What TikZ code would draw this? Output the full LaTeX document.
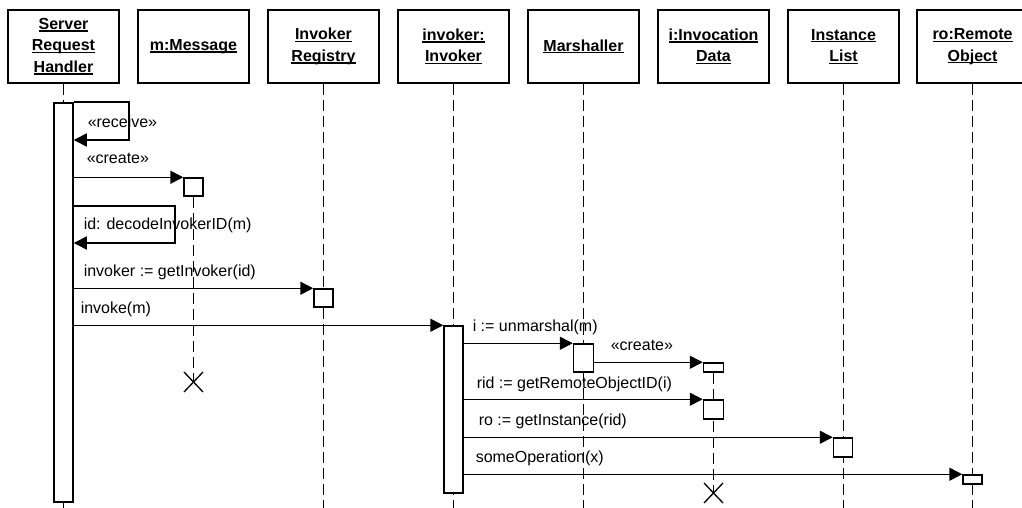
\documentclass[tikz,border=0pt]{standalone}
\usepackage{fontspec}
\setmainfont{Liberation Sans}
\usetikzlibrary{arrows.meta}
% bold, underlined object name line
\newcommand\objline[1]{\setbox0\hbox{\bfseries #1}\rlap{\rule[-2.4pt]{\wd0}{1.3pt}}\box0}

\begin{document}
\begin{tikzpicture}[x=1pt,y=-1pt,line width=1.5pt,
  objhead/.style={draw,fill=white,minimum width=111pt,minimum height=73pt,inner sep=0pt,
    align=center,font=\fontsize{16}{21.5}\selectfont},
  actbox/.style={draw,fill=white,inner sep=0pt},
  lifeline/.style={dash pattern=on 11pt off 5pt},
  msg/.style={-{Triangle[length=13pt,width=13pt]}},
  lbl/.style={anchor=base west,inner sep=0pt,font=\fontsize{16}{19}\selectfont},
  killmark/.style={line width=1.3pt}]
\useasboundingbox (0,0) rectangle (1022,508);

% object heads
\node[objhead] (h1) at (63.5,46.5) {\objline{Server}\\\objline{Request}\\\objline{Handler}};
\node[objhead] (h2) at (193.5,46.5) {\objline{m:Message}};
\node[objhead] (h3) at (323.5,46.5) {\objline{Invoker}\\\objline{Registry}};
\node[objhead] (h4) at (453.5,46.5) {\objline{invoker:}\\\objline{Invoker}};
\node[objhead] (h5) at (583.5,46.5) {\objline{Marshaller}};
\node[objhead] (h6) at (713.5,46.5) {\objline{i:Invocation}\\\objline{Data}};
\node[objhead] (h7) at (843.5,46.5) {\objline{Instance}\\\objline{List}};
\node[objhead] (h8) at (972.5,46.5) {\objline{ro:Remote}\\\objline{Object}};

% ends of lifelines
\coordinate (e1) at (63.5,508);
\coordinate (e3) at (323.5,508);
\coordinate (e4) at (453.5,508);
\coordinate (e5) at (583.5,508);
\coordinate (e7) at (843.5,508);
\coordinate (e8) at (972.5,508);
\coordinate (xm) at (193.5,382);
\coordinate (xi) at (713.5,493);

% lifelines
\draw[lifeline] (h1.south) -- (e1);
\draw[lifeline] (h3.south) -- (e3);
\draw[lifeline] (h4.south) -- (e4);
\draw[lifeline] (h5.south) -- (e5);
\draw[lifeline] (h7.south) -- (e7);
\draw[lifeline] (h8.south) -- (e8);

% activation boxes
\node[actbox,minimum width=19pt,minimum height=399pt] (aS) at (63.5,302.5) {};
\node[actbox,minimum width=19pt,minimum height=18pt] (mB) at (193.5,187) {};
\node[actbox,minimum width=19pt,minimum height=18pt] (rB) at (323.5,298) {};
\node[actbox,minimum width=19pt,minimum height=167pt] (aI) at (453.5,409.5) {};
\node[actbox,minimum width=20pt,minimum height=28pt] (maB) at (583.5,358) {};
\node[actbox,minimum width=20pt,minimum height=9pt] (iB) at (713.5,367.5) {};
\node[actbox,minimum width=19pt,minimum height=9pt] (oB) at (972.5,479.5) {};

% lifelines of created objects, ending in a destruction mark
\draw[lifeline] (mB.south) -- (xm);
\draw[lifeline] (iB.south) -- (xi);
\draw[killmark] (xm) ++(-9.5,-10) -- ++(19,20) ++(0,-20) -- ++(-19,20);
\draw[killmark] (xi) ++(-9.5,-10) -- ++(19,20) ++(0,-20) -- ++(-19,20);

\node[actbox,minimum width=20pt,minimum height=19pt] (iB2) at (713.5,409.5) {};
\node[actbox,minimum width=19pt,minimum height=19pt] (lB) at (843,447.5) {};

% messages
\coordinate (rcv) at (129,140);
\draw[msg] (aS.north east) -| (rcv) -- (aS.east |- rcv);
\node[lbl] (lrcv) at (87,128) {«receive»};

\draw[msg] (aS.east |- mB.north) -- (mB.north west);
\node[lbl] (lcm) at (86,164) {«create»};

\coordinate (dec) at (175,243);
\draw[msg] (aS.east |- 0,206) -| (dec) -- (aS.east |- dec);
\node[lbl] (ldec) at (83,229) {id: decodeInvokerID(m)};

\draw[msg] (aS.east |- rB.north) -- (rB.north west);
\node[lbl] (lget) at (83,276) {invoker := getInvoker(id)};

\draw[msg] (aS.east |- aI.north) -- (aI.north west);
\node[lbl] (linv) at (80,313) {invoke(m)};

\draw[msg] (aI.east |- maB.north) -- (maB.north west);
\node[lbl] (lunm) at (472,331) {i := unmarshal(m)};

\draw[msg] (maB.east |- iB.north) -- (iB.north west);
\node[lbl] (lci) at (610,350) {«create»};

\draw[msg] (aI.east |- iB2.north) -- (iB2.north west);
\node[lbl] (lrid) at (476,388) {rid := getRemoteObjectID(i)};

\draw[msg] (aI.east |- lB.north) -- (lB.north west);
\node[lbl] (lro) at (478,425) {ro := getInstance(rid)};

\draw[msg] (aI.east |- oB.north) -- (oB.north west);
\node[lbl] (lop) at (475,462) {someOperation(x)};
\end{tikzpicture}
\end{document}
